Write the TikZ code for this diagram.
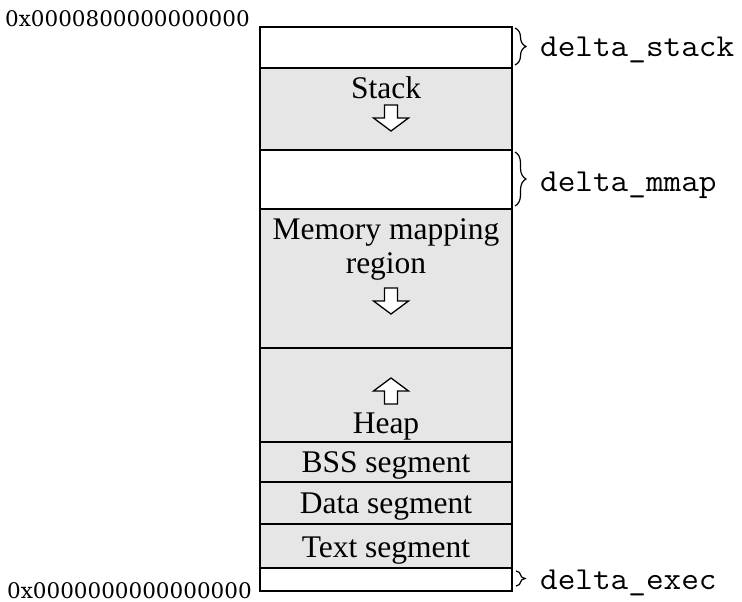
\documentclass[tikz,border=0pt]{standalone}
\usepackage{fontspec}
\setmainfont{Liberation Serif}
\newfontfamily\addrfont{DejaVu Serif}
\newfontfamily\deltafont{Latin Modern Mono}[FakeStretch=1.07]
\usetikzlibrary{decorations.pathreplacing}

\definecolor{segfill}{HTML}{E6E6E6}

\tikzset{
  seg/.style={draw, line width=1.4pt, rectangle, anchor=north west,
    minimum width=252pt, inner sep=0pt, outer sep=0pt},
  used/.style={seg, fill=segfill},
  free/.style={seg, fill=white},
  segtext/.style={font=\fontsize{31.5}{34}\selectfont, inner sep=0pt, anchor=base},
  addr/.style={font=\addrfont\fontsize{21.5}{24}\selectfont, inner sep=0pt, anchor=base east},
  delta/.style={font=\deltafont\fontsize{32}{35}\selectfont, inner sep=0pt, anchor=base west},
  curly/.style={decorate, line width=1.2pt,
    decoration={brace, amplitude=#1}},
  curly/.default=11pt,
  pics/blockdown/.style={code={
    \draw[line width=1.3pt, fill=white]
      (-6.5,-13) -- (6.5,-13) -- (6.5,0) -- (17.5,0) -- (0,13)
      -- (-17.5,0) -- (-6.5,0) -- cycle;
  }},
  pics/blockup/.style={code={
    \draw[line width=1.3pt, fill=white]
      (-6.5,13) -- (6.5,13) -- (6.5,0) -- (17.5,0) -- (0,-13)
      -- (-17.5,0) -- (-6.5,0) -- cycle;
  }},
}

\begin{document}
\begin{tikzpicture}[x=1pt, y=-1pt]
\useasboundingbox (0,0) rectangle (742,602);

% address space, top to bottom
\node[free, minimum height=41pt]  (gapstack) at (260,27)  {};
\node[used, minimum height=82pt]  (stack)    at (260,68)  {};
\node[free, minimum height=59pt]  (gapmmap)  at (260,150) {};
\node[used, minimum height=139pt] (mmap)     at (260,209) {};
\node[used, minimum height=94pt]  (heap)     at (260,348) {};
\node[used, minimum height=40pt]  (bss)      at (260,442) {};
\node[used, minimum height=42pt]  (data)     at (260,482) {};
\node[used, minimum height=44pt]  (text)     at (260,524) {};
\node[free, minimum height=23pt]  (gapexec)  at (260,568) {};

% segment labels and growth directions
\node[segtext] (stacklbl) at (386,99) {Stack};
\pic at (391,118) {blockdown};
\node[segtext] (mmaplbl1) at (386,239) {Memory mapping};
\node[segtext] (mmaplbl2) at (386,273) {region};
\pic at (391,301) {blockdown};
\pic at (391,391) {blockup};
\node[segtext] (heaplbl) at (386,433) {Heap};
\node[segtext] (bsslbl)  at (386,472) {BSS segment};
\node[segtext] (datalbl) at (386,513) {Data segment};
\node[segtext] (textlbl) at (386,557) {Text segment};

% addresses
\node[addr] (hiaddr) at (250,27)  {0x0000800000000000};
\node[addr] (loaddr) at (252,598) {0x0000000000000000};

% randomisation offsets
\draw[curly] ([xshift=3pt,yshift=-1pt]gapstack.north east) -- ([xshift=3pt,yshift=3pt]gapstack.south east);
\node[delta] (dstack) at (540,57) {delta\_stack};
\draw[curly] ([xshift=3pt,yshift=-2pt]gapmmap.north east) -- ([xshift=3pt,yshift=3pt]gapmmap.south east);
\node[delta] (dmmap) at (540,191) {delta\_mmap};
\draw[curly=9pt] ([xshift=4pt,yshift=-3pt]gapexec.north east) -- ([xshift=4pt,yshift=5pt]gapexec.south east);
\node[delta] (dexec) at (540,589) {delta\_exec};
\end{tikzpicture}
\end{document}
